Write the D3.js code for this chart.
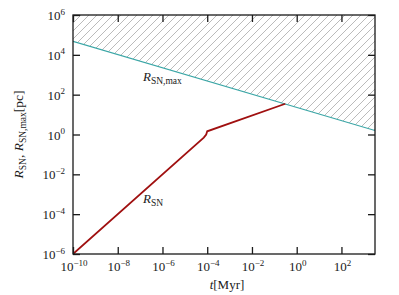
<!DOCTYPE html>
<html><head><meta charset="utf-8">
<script src="https://cdn.jsdelivr.net/npm/d3@7"></script>
<style>body{margin:0;background:#fff}svg{display:block}text{font-family:"Liberation Serif","DejaVu Serif",serif}</style>
</head><body><svg id="c" width="399" height="295"></svg>
<script>
// data
const xTickExps = [-10, -8, -6, -4, -2, 0, 2];
const yTickExps = [-6, -4, -2, 0, 2, 4, 6];
const tSN = [1e-10, 7e-5, 9e-5, 1e-4, 0.31];
const rSN = [1e-6, 0.7, 1.0, 1.45, 35];
const tMax = [1e-10, 3162];
const rMax = [4.8e4, 1.58];

const svg = d3.select("#c");
const L = 73, R = 375, T = 15, B = 254;
const x = d3.scaleLog().domain([1e-10, 3162]).range([L, R]);
const y = d3.scaleLog().domain([1e-6, 1e6]).range([B, T]);
const ink = "#1a1a1a";

const defs = svg.append("defs");
const pat = defs.append("pattern").attr("id", "hatch").attr("patternUnits", "userSpaceOnUse")
  .attr("width", 8).attr("height", 8);
pat.append("path").attr("d", "M-2,2 L2,-2 M0,8 L8,0 M6,10 L10,6")
  .attr("stroke", "#aaa").attr("stroke-width", 0.8);
defs.append("clipPath").attr("id", "clip").append("rect")
  .attr("x", L).attr("y", T).attr("width", R - L).attr("height", B - T);

const g = svg.append("g").attr("clip-path", "url(#clip)");
// hatched region above R_SN,max
const poly = tMax.map((t, i) => [x(t), y(rMax[i])]);
poly.push([x(tMax[1]), y(1e6)], [x(tMax[0]), y(1e6)]);
g.append("path").attr("d", "M" + poly.map(p => p.join(",")).join("L") + "Z")
  .attr("fill", "url(#hatch)");

const line = d3.line().x(d => x(d[0])).y(d => y(d[1]));
g.append("path").datum(tMax.map((t, i) => [t, rMax[i]])).attr("d", line)
  .attr("fill", "none").attr("stroke", "#3aa6a6").attr("stroke-width", 1.2);
g.append("path").datum(tSN.map((t, i) => [t, rSN[i]])).attr("d", line)
  .attr("fill", "none").attr("stroke", "#a01010").attr("stroke-width", 1.8);

// frame
svg.append("rect").attr("x", L).attr("y", T).attr("width", R - L).attr("height", B - T)
  .attr("fill", "none").attr("stroke", ink).attr("stroke-width", 1.3);

// axes with inner ticks
const xt = xTickExps.map(e => Math.pow(10, e));
const yt = yTickExps.map(e => Math.pow(10, e));
const tl = 7;
function pow10(sel, e) {
  sel.append("tspan").text("10");
  sel.append("tspan").attr("dy", -5.5).attr("font-size", 9).text(e < 0 ? "\u2212" + (-e) : e);
}
function styleAxis(s) {
  s.select(".domain").remove();
  s.selectAll("line").attr("stroke", ink).attr("stroke-width", 1.3);
}
const axB = d3.axisBottom(x).tickValues(xt).tickSizeInner(-tl).tickSizeOuter(0).tickFormat("");
svg.append("g").attr("transform", `translate(0,${B})`).call(axB).call(styleAxis);
const axT = d3.axisTop(x).tickValues(xt).tickSizeInner(-tl).tickSizeOuter(0).tickFormat("");
svg.append("g").attr("transform", `translate(0,${T})`).call(axT).call(styleAxis);
const axL = d3.axisLeft(y).tickValues(yt).tickSizeInner(-tl).tickSizeOuter(0).tickFormat("");
svg.append("g").attr("transform", `translate(${L},0)`).call(axL).call(styleAxis);
const axR = d3.axisRight(y).tickValues(yt).tickSizeInner(-tl).tickSizeOuter(0).tickFormat("");
svg.append("g").attr("transform", `translate(${R},0)`).call(axR).call(styleAxis);

// tick labels
xTickExps.forEach(e => {
  const t = svg.append("text").attr("x", x(Math.pow(10, e)) + 1).attr("y", 271)
    .attr("text-anchor", "middle").attr("font-size", 13).attr("fill", ink);
  pow10(t, e);
});
yTickExps.forEach(e => {
  const t = svg.append("text").attr("x", 65).attr("y", y(Math.pow(10, e)) + 5)
    .attr("text-anchor", "end").attr("font-size", 13).attr("fill", ink);
  pow10(t, e);
});

// axis titles
const xl = svg.append("text").attr("x", 227).attr("y", 289).attr("text-anchor", "middle")
  .attr("font-size", 13).attr("fill", ink);
xl.append("tspan").attr("font-style", "italic").text("t");
xl.append("tspan").text("[Myr]");

const yl = svg.append("text").attr("transform", `translate(23,${(T + B) / 2}) rotate(-90)`)
  .attr("text-anchor", "middle").attr("font-size", 13.5).attr("fill", ink);
yl.append("tspan").attr("font-style", "italic").text("R");
yl.append("tspan").attr("font-size", 9.5).attr("dy", 3).text("SN");
yl.append("tspan").attr("dy", -3).text(", ");
yl.append("tspan").attr("font-style", "italic").text("R");
yl.append("tspan").attr("font-size", 9.5).attr("dy", 3).text("SN,max");
yl.append("tspan").attr("dy", -3).text("[pc]");

// series labels
function lab(px, py, sub) {
  const t = svg.append("text").attr("x", px).attr("y", py).attr("font-size", 13).attr("fill", ink);
  t.append("tspan").attr("font-style", "italic").text("R");
  t.append("tspan").attr("font-size", 9.5).attr("dy", 3).text(sub);
}
lab(143, 81, "SN,max");
lab(143, 203, "SN");
</script></body></html>
